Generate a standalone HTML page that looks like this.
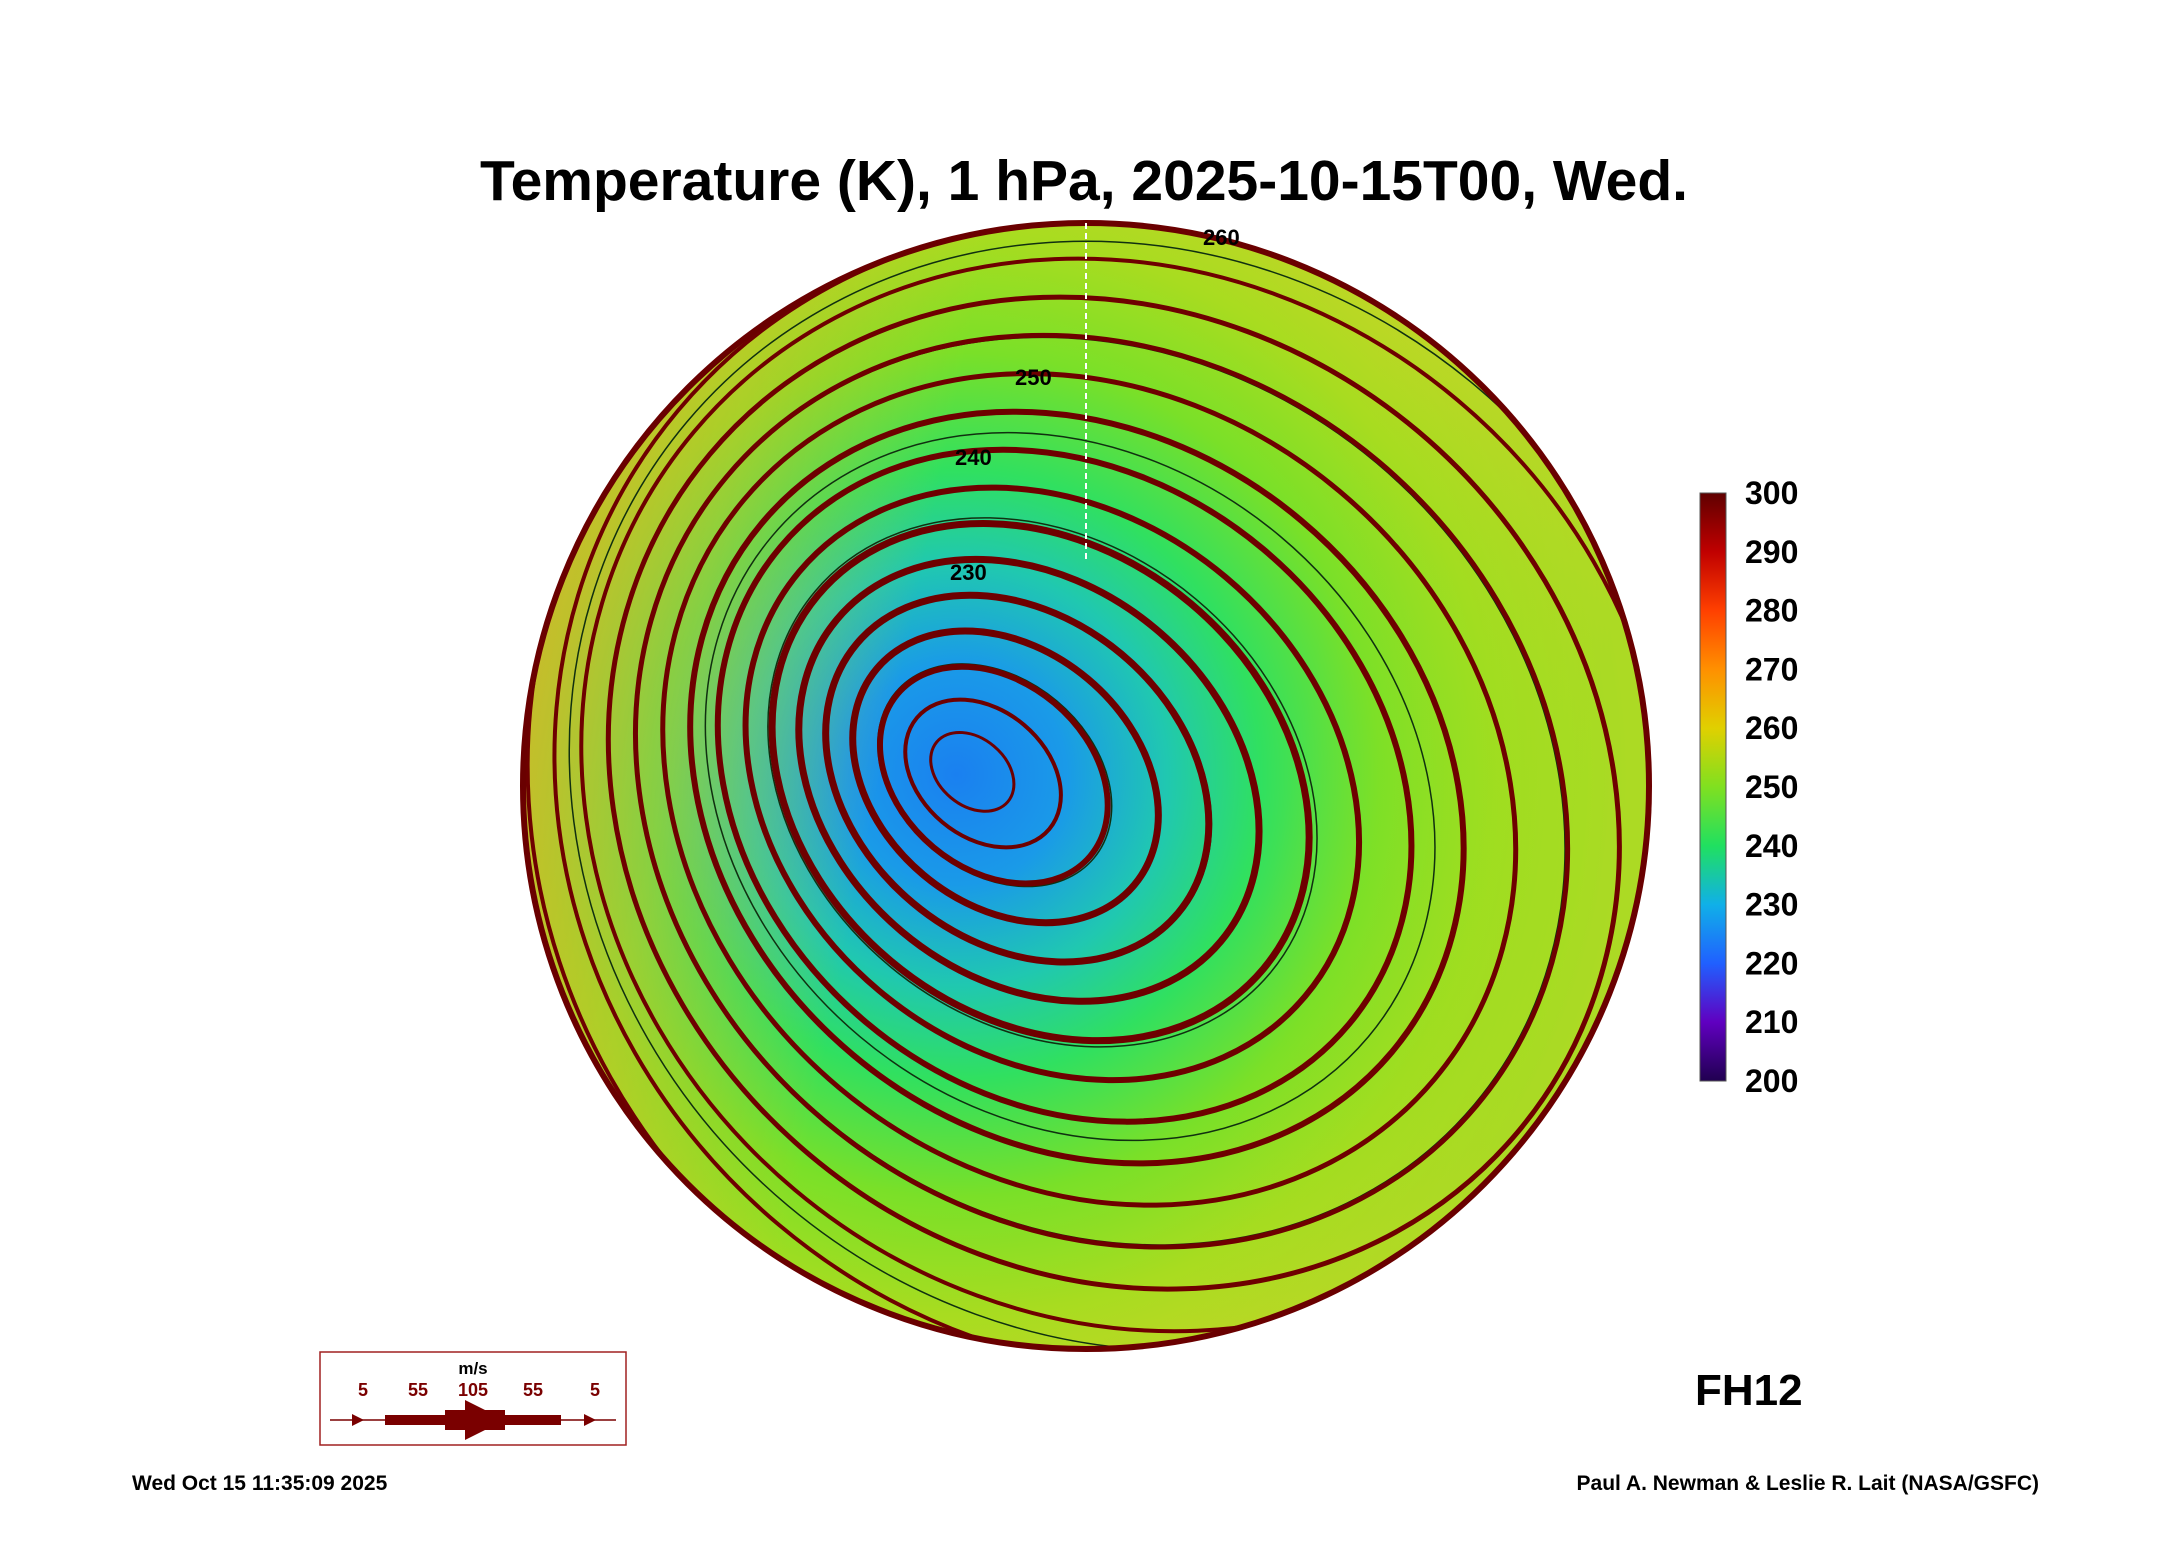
<!DOCTYPE html>
<html><head><meta charset="utf-8"><style>
html,body{margin:0;padding:0;background:#fff;overflow:hidden;width:2165px;height:1561px;}
svg{position:absolute;left:0;top:0;font-family:"Liberation Sans",sans-serif;font-weight:bold;}
</style></head><body>
<svg width="2165" height="1561" viewBox="0 0 2165 1561">
<defs>
<radialGradient id="tg" cx="0.385" cy="0.49" r="0.75" fx="0.385" fy="0.49">
<stop offset="0" stop-color="#1a80f0"/>
<stop offset="0.13" stop-color="#1a9ae8"/>
<stop offset="0.25" stop-color="#20c8b0"/>
<stop offset="0.36" stop-color="#30e060"/>
<stop offset="0.5" stop-color="#7ae028"/>
<stop offset="0.64" stop-color="#a8dc20"/>
<stop offset="0.8" stop-color="#c8d428"/>
<stop offset="1" stop-color="#d8c030"/>
</radialGradient>
<linearGradient id="lg" x1="0" y1="0" x2="1" y2="0.2">
<stop offset="0" stop-color="#e0a830" stop-opacity="0.9"/>
<stop offset="0.22" stop-color="#d8c028" stop-opacity="0.5"/>
<stop offset="0.4" stop-color="#d8c028" stop-opacity="0"/>
<stop offset="0.75" stop-color="#90e020" stop-opacity="0"/>
<stop offset="1" stop-color="#90e020" stop-opacity="0.5"/>
</linearGradient>
<linearGradient id="cb" x1="0" y1="1" x2="0" y2="0">
<stop offset="0" stop-color="#200050"/>
<stop offset="0.1" stop-color="#6000c0"/>
<stop offset="0.2" stop-color="#2060ff"/>
<stop offset="0.3" stop-color="#10b0e8"/>
<stop offset="0.4" stop-color="#20e060"/>
<stop offset="0.5" stop-color="#80e020"/>
<stop offset="0.6" stop-color="#e0d000"/>
<stop offset="0.7" stop-color="#ff9000"/>
<stop offset="0.8" stop-color="#ff4000"/>
<stop offset="0.9" stop-color="#c00000"/>
<stop offset="1" stop-color="#600000"/>
</linearGradient>
<clipPath id="cc"><circle cx="1086" cy="786" r="563"/></clipPath>
</defs>
<text x="1084" y="200" font-size="57" text-anchor="middle">Temperature (K), 1 hPa, 2025-10-15T00, Wed.</text>
<circle cx="1086" cy="786" r="563" fill="url(#tg)"/>
<circle cx="1086" cy="786" r="563" fill="url(#lg)"/>
<g id="flow" clip-path="url(#cc)" fill="none"></g>
<circle cx="1086" cy="786" r="563" fill="none" stroke="#6a0000" stroke-width="6"/>
<line x1="1086" y1="223" x2="1086" y2="560" stroke="#fff" stroke-width="2" stroke-dasharray="6 4"/>
<text x="1203" y="245" font-size="22">260</text>
<text x="1015" y="385" font-size="22">250</text>
<text x="955" y="465" font-size="22">240</text>
<text x="950" y="580" font-size="22">230</text>
<rect x="1700" y="493" width="26" height="588" fill="url(#cb)" stroke="#555" stroke-width="1"/>
<g id="cbl" font-size="32"></g>
<text x="1695" y="1405" font-size="44">FH12</text>
<g>
<rect x="320" y="1352" width="306" height="93" fill="#fff" stroke="#a02020" stroke-width="1.5"/>
<text x="473" y="1374" font-size="17" fill="#000" text-anchor="middle">m/s</text>
<g font-size="18" fill="#7a0000" text-anchor="middle">
<text x="363" y="1396">5</text><text x="418" y="1396">55</text><text x="473" y="1396">105</text><text x="533" y="1396">55</text><text x="595" y="1396">5</text>
</g>
<line x1="330" y1="1420" x2="616" y2="1420" stroke="#7a0000" stroke-width="1.5"/>
<rect x="385" y="1415" width="176" height="10" fill="#7a0000"/>
<rect x="445" y="1410" width="60" height="20" fill="#7a0000"/>
<polygon points="465,1400 505,1420 465,1440" fill="#7a0000"/>
<polygon points="352,1414 364,1420 352,1426" fill="#7a0000"/>
<polygon points="584,1414 596,1420 584,1426" fill="#7a0000"/>
</g>
<text x="132" y="1490" font-size="21">Wed Oct 15 11:35:09 2025</text>
<text x="2039" y="1490" font-size="21" text-anchor="end">Paul A. Newman &amp; Leslie R. Lait (NASA/GSFC)</text>
<script>
const cbTicks=[300,290,280,270,260,250,240,230,220,210,200];
const ringSizes=[40,75,110,148,186,224,262,300,340,380,420,460,500,540,580,620,660];
const ringWidths=[3,4,6,7,7,7,7,6,6,6,5,5,5,4,4,4,3];
const contourSizes=[95,170,250,340,440,540];
const ns='http://www.w3.org/2000/svg';
const cbl=document.getElementById('cbl');
cbTicks.forEach(v=>{const t=document.createElementNS(ns,'text');


t.setAttribute('x',1745);t.setAttribute('y',493+(300-v)/100*588+11);t.textContent=v;cbl.appendChild(t);});
const flow=document.getElementById('flow');
const vx=960,vy=770,ox=1160,oy=800;
function ring(s,stroke,w,name){const f=Math.min(s/650,1);
const x=vx+(ox-vx)*f,y=vy+(oy-vy)*f;const ecc=0.3*(1-f)+0.04;
const e=document.createElementNS(ns,'ellipse');


e.setAttribute('cx',x);e.setAttribute('cy',y);e.setAttribute('rx',s*(1+ecc/2));e.setAttribute('ry',s*(1-ecc/2));
e.setAttribute('transform',`rotate(40 ${x} ${y})`);e.setAttribute('stroke',stroke);e.setAttribute('stroke-width',w);flow.appendChild(e);}
contourSizes.forEach(s=>ring(s+18,'#103010',1.5,'temperature-contour'));
ringSizes.forEach((s,i)=>ring(s,'#6e0000',ringWidths[i],'wind-streamline'));
</script>
</svg>
</body></html>
